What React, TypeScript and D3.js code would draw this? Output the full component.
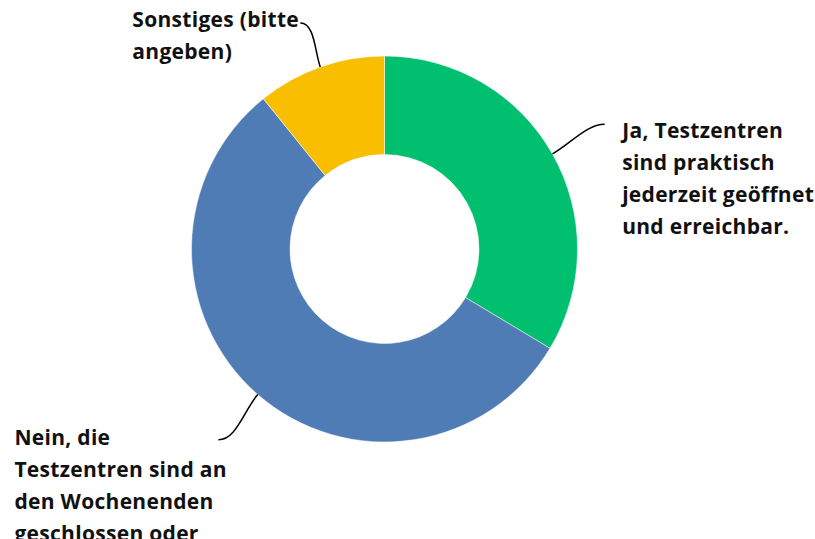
import * as React from 'react';
import {useEffect, useRef} from 'react';
import * as d3 from 'd3';

const width = 815;
const height = 539;

const categories = ['Ja', 'Nein', 'Sonstiges'];
const values = [33.6, 55.6, 10.8];
const colors = ['#00bf6f', '#507cb6', '#f9be00'];
const labelLines = [
  ['Ja, Testzentren', 'sind praktisch', 'jederzeit geöffnet', 'und erreichbar.'],
  ['Nein, die', 'Testzentren sind an', 'den Wochenenden', 'geschlossen oder'],
  ['Sonstiges (bitte', 'angeben)'],
];

// where the text block sits relative to the end of its leader line
const labelOffsets = [
  {dx: 17.5, dy: 13.5, side: 1},
  {dx: -204, dy: 5, side: -1},
  {dx: -168, dy: 4, side: -1},
];

const cx = 384.5;
const cy = 249;
const outerRadius = 193;
const innerRadius = 94.5;
const labelRadius = 253;
const lineHeight = 32;

export default function App() {
  const ref = useRef<SVGSVGElement>(null);

  useEffect(() => {
    const svg = d3.select(ref.current);
    svg.selectAll('*').remove();

    const data = categories.map((c, i) => ({name: c, value: values[i], i}));
    const pie = d3.pie<{name: string, value: number, i: number}>()
      .value(d => d.value)
      .sort(null);
    const arcs = pie(data);

    const arc = d3.arc<d3.PieArcDatum<any>>()
      .innerRadius(innerRadius)
      .outerRadius(outerRadius);

    const g = svg.append('g').attr('transform', `translate(${cx},${cy})`);

    g.selectAll('path.slice')
      .data(arcs)
      .join('path')
      .attr('class', 'slice')
      .attr('d', arc)
      .attr('fill', d => colors[d.data.i])
      .attr('stroke', '#fff')
      .attr('stroke-width', 0.5);

    const polar = (r: number, a: number) => [r * Math.sin(a), -r * Math.cos(a)];

    arcs.forEach(d => {
      const mid = (d.startAngle + d.endAngle) / 2;
      const [sx, sy] = polar(outerRadius, mid);
      let [ex, ey] = polar(labelRadius, mid);
      ey = Math.max(23 - cy, ey);
      const off = labelOffsets[d.data.i];
      const dist = Math.hypot(ex - sx, ey - sy);
      const [rx, ry] = [Math.sin(mid), -Math.cos(mid)];
      const path = d3.path();
      path.moveTo(sx, sy);
      path.bezierCurveTo(
        sx + rx * dist * 0.35, sy + ry * dist * 0.35,
        ex - off.side * dist * 0.3, ey,
        ex, ey);
      g.append('path')
        .attr('d', path.toString())
        .attr('fill', 'none')
        .attr('stroke', '#000')
        .attr('stroke-width', 1.5);

      const text = g.append('text')
        .attr('x', ex + off.dx)
        .attr('y', ey + off.dy)
        .attr('font-family', '"Open Sans", sans-serif')
        .attr('font-weight', 700)
        .attr('font-size', 21)
        .attr('letter-spacing', 0.3)
        .attr('fill', '#111');
      labelLines[d.data.i].forEach((line, k) => {
        text.append('tspan')
          .attr('x', ex + off.dx)
          .attr('dy', k === 0 ? 0 : lineHeight)
          .text(line);
      });
    });
  }, []);

  return (
    <svg ref={ref} width={width} height={height}
      style={{position: 'absolute', left: 0, top: 0, background: '#fff'}}/>
  );
}
